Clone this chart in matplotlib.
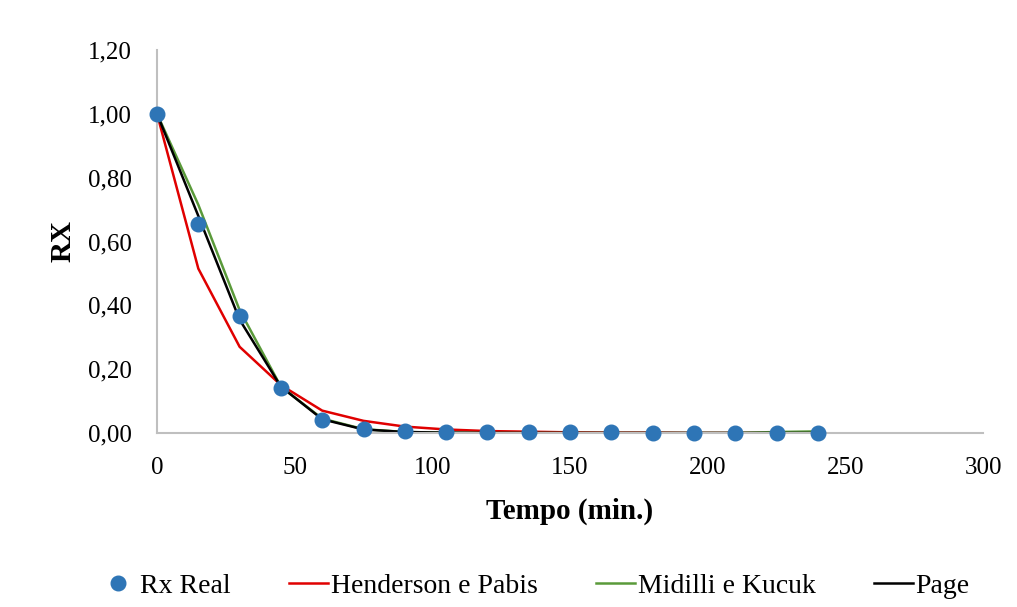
import matplotlib.pyplot as plt
from matplotlib.ticker import FuncFormatter

tempo = [0, 15, 30, 45, 60, 75, 90, 105, 120, 135, 150, 165, 180, 195, 210, 225, 240]
rx_real = [1.00, 0.655, 0.367, 0.142, 0.042, 0.014, 0.006, 0.004, 0.003, 0.003, 0.003, 0.003, 0.001, 0.001, 0.001, 0.001, 0.001]
henderson = [1.00, 0.515, 0.27, 0.15, 0.07, 0.038, 0.02, 0.011, 0.006, 0.004, 0.002, 0.001, 0.001, 0.0, 0.0, 0.0, 0.0]
midilli = [1.00, 0.715, 0.385, 0.145, 0.045, 0.012, 0.003, 0.001, 0.0, 0.0, 0.0, 0.0, 0.0, 0.0, 0.0, 0.003, 0.005]
page = [1.00, 0.68, 0.355, 0.145, 0.043, 0.011, 0.003, 0.001, 0.0, 0.0, 0.0, 0.0, 0.0, 0.0, 0.0, 0.0, 0.0]

plt.rcParams['font.family'] = ['Liberation Serif', 'DejaVu Serif']

fig = plt.figure(figsize=(10.17, 6.07), dpi=100)
ax = fig.add_axes([0.1544, 0.2867, 0.8122, 0.6309])

ax.plot(tempo, rx_real, 'o', color='#2e75b6', markersize=10.5, label='Rx Real', zorder=5, clip_on=False)
ax.plot(tempo, henderson, color='#e00000', lw=1.8, label='Henderson e Pabis')
ax.plot(tempo, midilli, color='#5a9a3a', lw=1.8, label='Midilli e Kucuk')
ax.plot(tempo, page, color='black', lw=1.8, label='Page')

ax.set_xlim(0, 300)
ax.set_ylim(0, 1.2)
ax.set_xticks(range(0, 301, 50))
ax.set_yticks([0, 0.2, 0.4, 0.6, 0.8, 1.0, 1.2])
ax.yaxis.set_major_formatter(FuncFormatter(lambda v, p: f'{v:.2f}'.replace('.', ',')))
ax.tick_params(labelsize=18, length=0)
ax.tick_params(axis='y', pad=18)
ax.tick_params(axis='x', pad=17)

for s in ['top', 'right']:
    ax.spines[s].set_visible(False)
for s in ['left', 'bottom']:
    ax.spines[s].set_color('#bfbfbf')
    ax.spines[s].set_linewidth(1.5)

ax.set_xlabel('Tempo (min.)', fontsize=21, fontweight='bold', labelpad=14)
ax.set_ylabel('RX', fontsize=21, fontweight='bold', labelpad=8)

fig.legend(loc='lower center', ncol=4, frameon=False, fontsize=20,
           bbox_to_anchor=(0.525, -0.028), handlelength=1.4, handletextpad=0.1, columnspacing=2.1)

fig.savefig('out.png', dpi=100)
